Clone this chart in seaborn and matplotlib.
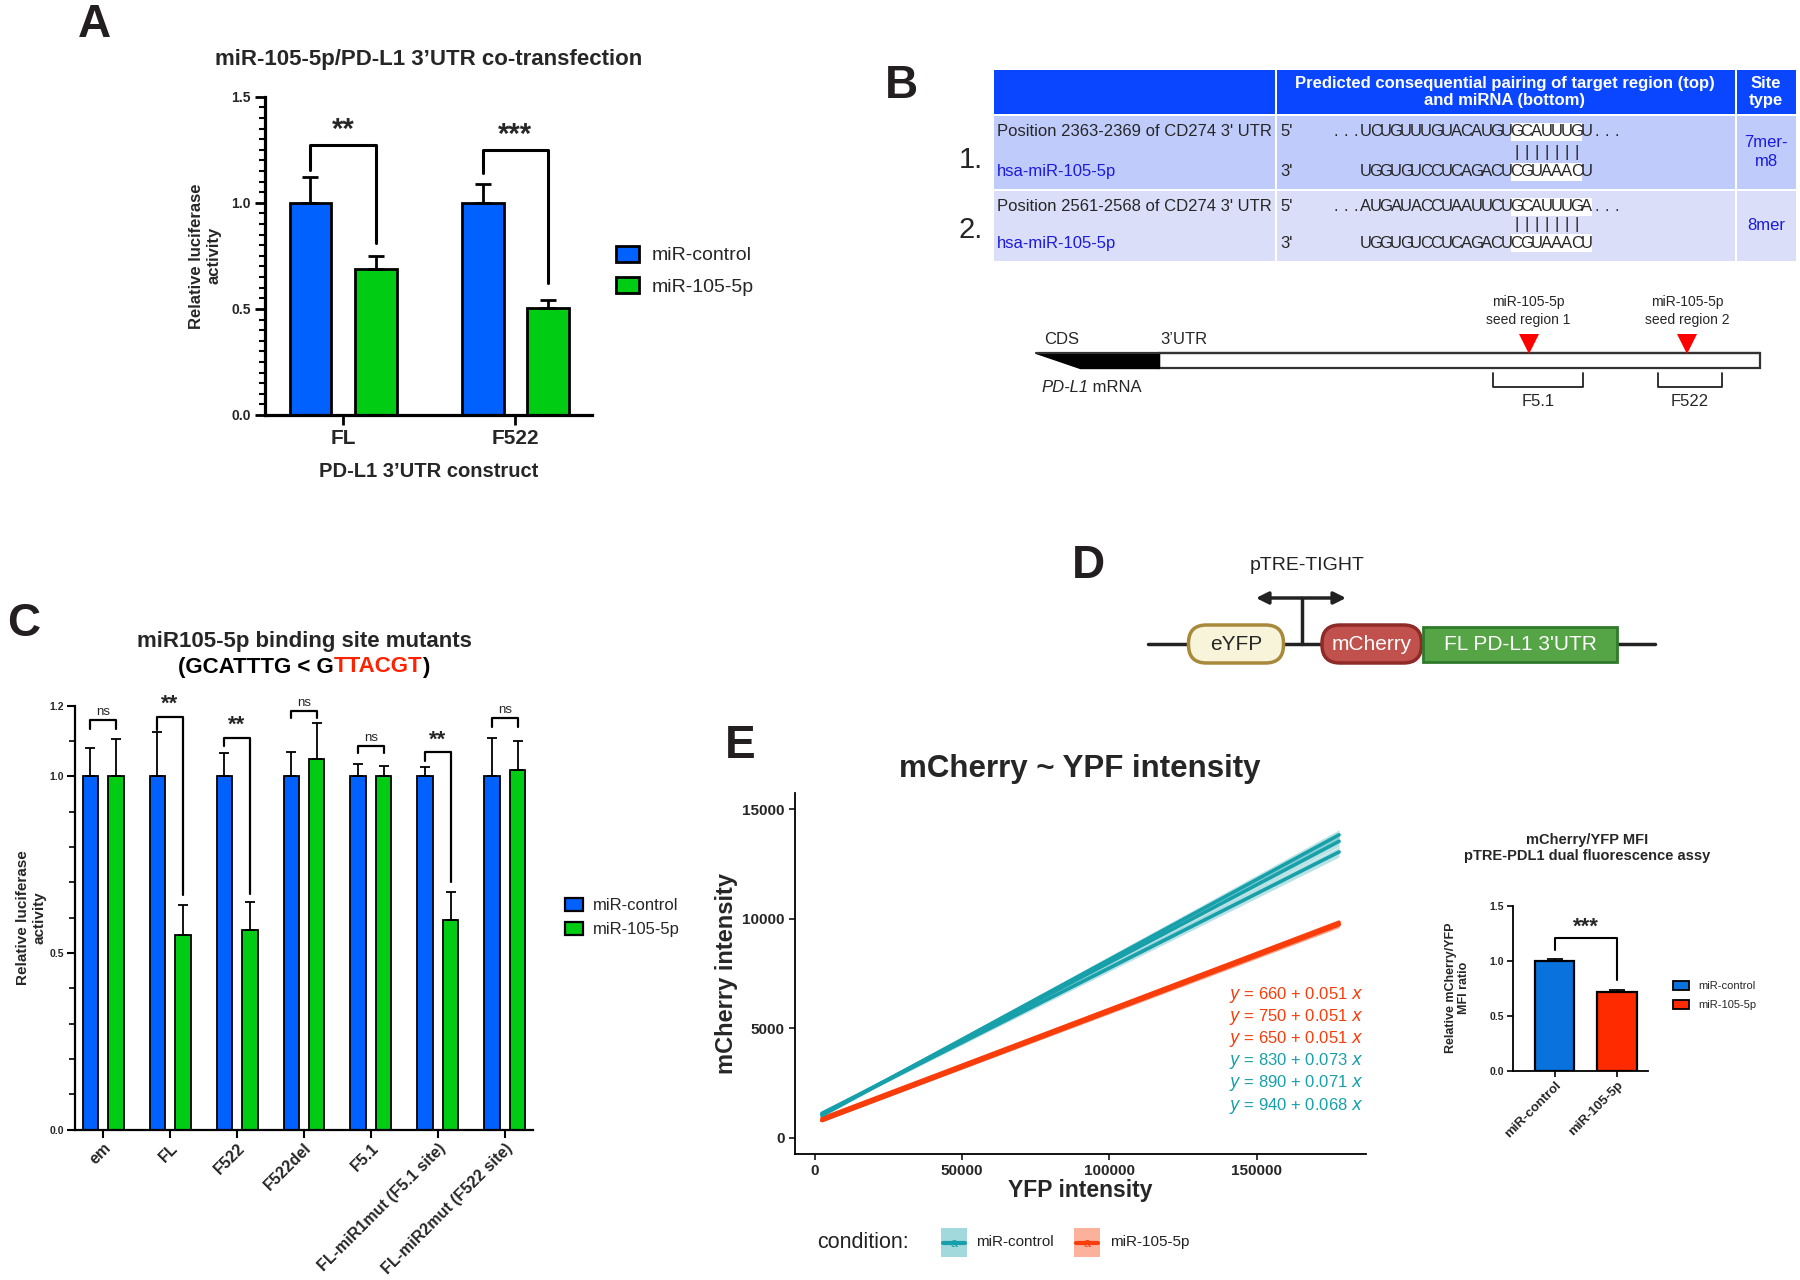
# Figura compuesta: ensayos de luciferasa (A, C), pareo miR-105-5p (B),
# construcción pTRE (D) y ensayo de fluorescencia dual (E).

import pandas as pd
import matplotlib
matplotlib.use("Agg")
import matplotlib.pyplot as plt
from matplotlib.ticker import MultipleLocator
from matplotlib.patches import Rectangle, FancyBboxPatch, Polygon, Patch
import seaborn as sns

# --- Datos panel A ---
a_constructs = ["FL", "F522"]
a_ctrl = [1.0, 1.0]
a_mir = [0.69, 0.505]
a_ctrl_err = [0.12, 0.088]
a_mir_err = [0.058, 0.038]
a_stars = ["**", "***"]
a_top = [1.272, 1.249]
a_leg_ctrl = [1.154, 1.139]
a_leg_mir = [0.81, 0.62]

# --- Datos panel C ---
c_constructs = ["em", "FL", "F522", "F522del", "F5.1",
                "FL-miR1mut (F5.1 site)", "FL-miR2mut (F522 site)"]
c_ctrl = [1.0, 1.0, 1.0, 1.0, 1.0, 1.0, 1.0]
c_mir = [1.0, 0.55, 0.565, 1.05, 1.0, 0.592, 1.018]
c_ctrl_err = [0.08, 0.126, 0.065, 0.067, 0.034, 0.026, 0.108]
c_mir_err = [0.105, 0.085, 0.08, 0.1, 0.028, 0.079, 0.081]
c_marks = ["ns", "**", "**", "ns", "ns", "**", "ns"]
c_top = [1.158, 1.167, 1.109, 1.185, 1.086, 1.067, 1.164]
c_leg_ctrl = [1.134, 1.13, 1.084, 1.164, 1.065, 1.044, 1.14]
c_leg_mir = [1.134, 0.663, 0.666, 1.164, 1.065, 0.70, 1.14]

# --- Datos panel E (rectas ajustadas) ---
e_conditions = ["miR-105-5p"] * 3 + ["miR-control"] * 3
e_intercepts = [660, 750, 650, 830, 890, 940]
e_slopes = [0.051, 0.051, 0.051, 0.073, 0.071, 0.068]
e_x_range = [2500, 178000]
e_band = [[60, 140], [60, 140], [60, 140], [60, 230], [60, 230], [60, 230]]

# --- Datos inserto E ---
f_groups = ["miR-control", "miR-105-5p"]
f_values = [1.0, 0.715]
f_err = [0.012, 0.022]

# --- Secuencias panel B ---
b_target = ["UCUGUUUGUACAUGUGCAUUUGU", "AUGAUACCUAAUUCUGCAUUUGA"]
b_mirna = "UGGUGUCCUCAGACUCGUAAACU"
b_positions = ["Position 2363-2369 of CD274 3' UTR", "Position 2561-2568 of CD274 3' UTR"]
b_seed_len = [7, 8]
b_site = ["7mer-\nm8", "8mer"]

AZUL = "#0061FE"
VERDE = "#00CC13"
AZUL_F = "#0A72DC"
ROJO_F = "#FF2A00"
TEAL = "#17A0AA"
NARANJA = "#F83C0A"
AZUL_TXT = "#1A1AE0"

W, H = 1800, 1280
sns.set_style("ticks")
plt.rcParams["font.family"] = ["Liberation Sans", "DejaVu Sans"]
NARROW = ["Liberation Sans Narrow", "Liberation Sans", "DejaVu Sans"]
ARIAL = ["Liberation Sans", "DejaVu Sans"]

fig = plt.figure(figsize=(18, 12.8), dpi=100)

# eje de fondo en pixeles (y hacia abajo) para diagramas y textos
bg = fig.add_axes([0, 0, 1, 1])
bg.set_xlim(0, W)
bg.set_ylim(H, 0)
bg.axis("off")


def ejes_px(x0, y0, x1, y1):
    ax = fig.add_axes([x0 / W, 1 - y1 / H, (x1 - x0) / W, (y1 - y0) / H])
    ax.patch.set_visible(False)
    return ax


def estilo_eje(ax, lw):
    for s in ["top", "right"]:
        ax.spines[s].set_visible(False)
    for s in ["left", "bottom"]:
        ax.spines[s].set_linewidth(lw)
        ax.spines[s].set_color("black")


def fuente_ticks(labels, size, family, weight="bold"):
    for lbl in labels:
        lbl.set_fontsize(size)
        lbl.set_fontfamily(family)
        lbl.set_fontweight(weight)


def barras_error(ax, errs_por_hue, lw, cap):
    conts = list(ax.containers)[:len(errs_por_hue)]
    centros = []
    for cont, errs in zip(conts, errs_por_hue):
        xs = []
        for barra, e in zip(cont, errs):
            xc = barra.get_x() + barra.get_width() / 2
            ax.errorbar(xc, barra.get_height(), yerr=[[0], [e]], fmt="none", ecolor="black",
                        elinewidth=lw, capsize=cap, capthick=lw, zorder=1)
            xs.append(xc)
        centros.append(xs)
    return centros


def corchete(ax, x1, x2, top, y1, y2, label, size, weight, lw, gap):
    ax.plot([x1, x1, x2, x2], [y1, top, top, y2], color="black", lw=lw, clip_on=False)
    ax.text((x1 + x2) / 2, top + gap, label, ha="center", va="bottom", fontsize=size,
            fontweight=weight, clip_on=False)


def leyenda(ax, colores, etiquetas, x, y, size, hl, hh, ls, htp, lw, family=NARROW):
    handles = [Patch(facecolor=c, edgecolor="black", linewidth=lw) for c in colores]
    ax.legend(handles, etiquetas, loc="upper left", bbox_to_anchor=(x / W, 1 - y / H),
              bbox_transform=fig.transFigure, frameon=False, borderpad=0, borderaxespad=0,
              handlelength=hl, handleheight=hh, labelspacing=ls, handletextpad=htp,
              prop={"family": family, "size": size})


# --- Letras de panel ---
for txt, x, y in [("A", 94, 25), ("B", 901, 86), ("C", 24, 624), ("D", 1088, 566), ("E", 740, 746)]:
    bg.text(x, y, txt, fontsize=33, fontweight="bold", ha="center", va="center", color="#231F20")

# ================= Panel A =================
ax_a = ejes_px(265, 96.7, 592, 415)
df_a = pd.DataFrame({"construct": a_constructs * 2, "valor": a_ctrl + a_mir,
                     "condicion": ["miR-control"] * 2 + ["miR-105-5p"] * 2})
sns.barplot(data=df_a, x="construct", y="valor", hue="condicion", palette=[AZUL, VERDE],
            saturation=1, width=0.76, gap=0.36, edgecolor="black", linewidth=2, errorbar=None,
            legend=False, ax=ax_a)
cent = barras_error(ax_a, [a_ctrl_err, a_mir_err], 2, 6)
for i in range(len(a_constructs)):
    corchete(ax_a, cent[0][i], cent[1][i], a_top[i], a_leg_ctrl[i], a_leg_mir[i],
             a_stars[i], 21, "bold", 2.2, 0.005)
estilo_eje(ax_a, 2.3)
ax_a.set_xlim(-0.454, 1.445)
ax_a.set_ylim(0, 1.5)
ax_a.set_yticks([0, 0.5, 1.0, 1.5], ["0.0", "0.5", "1.0", "1.5"])
ax_a.yaxis.set_minor_locator(MultipleLocator(0.05))
ax_a.tick_params(axis="both", which="major", length=7, width=2, color="black", pad=3)
ax_a.tick_params(axis="y", which="minor", length=4, width=1.5, color="black")
fuente_ticks(ax_a.get_yticklabels(), 10, NARROW)
fuente_ticks(ax_a.get_xticklabels(), 15, NARROW)
ax_a.set_xlabel("PD-L1 3’UTR construct", fontsize=14.5, fontweight="bold", family=NARROW, labelpad=10)
ax_a.set_ylabel("Relative luciferase\nactivity", fontsize=12, fontweight="bold", labelpad=7)
bg.text(429, 60, "miR-105-5p/PD-L1 3’UTR co-transfection", ha="center", va="center",
        fontsize=16, fontweight="bold", family=NARROW)
leyenda(ax_a, [AZUL, VERDE], ["miR-control", "miR-105-5p"], 616, 246, 14, 1.2, 0.85, 0.65, 0.65, 2)

# ================= Panel B: tabla =================
HDR = "#0A46FF"
FILA = ["#BFCCFB", "#DBDEF8"]
cols = [(994, 1275), (1277, 1735), (1737, 1796)]
for (x0, x1) in cols:
    bg.add_patch(Rectangle((x0, 70), x1 - x0, 44, fc=HDR, ec="none"))
filas_y = [(116, 189), (191, 261)]
for k, (y0, y1) in enumerate(filas_y):
    for (x0, x1) in cols:
        bg.add_patch(Rectangle((x0, y0), x1 - x0, y1 - y0, fc=FILA[k], ec="none"))
bg.text(1505, 92, "Predicted consequential pairing of target region (top)\nand miRNA (bottom)",
        ha="center", va="center", color="white", fontsize=12, fontweight="bold",
        family=NARROW, linespacing=1.2)
bg.text(1766, 92, "Site\ntype", ha="center", va="center", color="white", fontsize=12,
        fontweight="bold", family=NARROW, linespacing=1.2)

PASO = 10.03
X0_SEQ = 1361


def secuencia(y, texto, inicio, semilla=None, size=12):
    if semilla is not None:
        i0, n = semilla
        bg.add_patch(Rectangle((X0_SEQ + i0 * PASO, y - 9), n * PASO, 18, fc="white", ec="none"))
    for i, ch in enumerate(texto):
        bg.text(X0_SEQ + (inicio + i + 0.5) * PASO, y, ch, ha="center", va="center",
                fontsize=size, family=NARROW)


filas_txt = [(131.7, 153, 171.7, 160), (206.7, 225, 243.3, 230)]
for k, (yt, yp, yb, yn) in enumerate(filas_txt):
    bg.text(997, yt, b_positions[k], ha="left", va="center", fontsize=12, family=NARROW)
    bg.text(997, yb, "hsa-miR-105-5p", ha="left", va="center", fontsize=12, color=AZUL_TXT, family=NARROW)
    bg.text(1280, yt, "5'", ha="left", va="center", fontsize=12)
    bg.text(1280, yb, "3'", ha="left", va="center", fontsize=12)
    secuencia(yt, "...", -3)
    secuencia(yt, b_target[k], 0, semilla=(15, b_seed_len[k]))
    secuencia(yt, "...", 23)
    secuencia(yp, "|" * 7, 15)
    secuencia(yb, b_mirna, 0, semilla=(15, b_seed_len[k]))
    bg.text(971, yn, f"{k + 1}.", ha="center", va="center", fontsize=21, family=NARROW)
    bg.text(1766, (yt + yb) / 2, b_site[k], ha="center", va="center", fontsize=12,
            color=AZUL_TXT, family=NARROW, linespacing=1.3)

# ================= Panel B: esquema del ARNm =================
bg.add_patch(Rectangle((1158.8, 353), 1760 - 1158.8, 15, fc="white", ec="#333333", lw=1.6))
bg.add_patch(Polygon([(1035.5, 353), (1158.8, 353), (1158.8, 368), (1079.5, 368)],
                     closed=True, fc="black", ec="black", lw=1))
bg.plot([1035.5, 1760], [353, 353], color="#333333", lw=1.6)
bg.text(1044, 340, "CDS", ha="left", va="center", fontsize=12, family=NARROW)
bg.text(1160, 340, "3’UTR", ha="left", va="center", fontsize=12, family=NARROW)
t_pd = bg.text(1041, 388, "PD-L1", ha="left", va="center", fontsize=12, style="italic", family=NARROW)
bg.annotate(" mRNA", xy=(1, 0), xycoords=t_pd, ha="left", va="bottom", fontsize=12, family=NARROW)
for xt, n in [(1528.5, 1), (1687, 2)]:
    bg.plot([xt], [344], marker="v", color="#FF0000", markersize=14, markeredgewidth=0)
    bg.text(xt, 311, f"miR-105-5p\nseed region {n}", ha="center", va="center", fontsize=10,
            family=NARROW, linespacing=1.4)
for (x0, x1), lbl in [((1493, 1582.5), "F5.1"), ((1657.6, 1722), "F522")]:
    bg.plot([x0, x0, x1, x1], [373, 387, 387, 373], color="#222222", lw=1.3)
    bg.text((x0 + x1) / 2, 401, lbl, ha="center", va="center", fontsize=12, family=NARROW)

# ================= Panel C =================
ax_c = ejes_px(75, 705.5, 533, 1129.5)
n_c = len(c_constructs)
df_c = pd.DataFrame({"construct": c_constructs * 2, "valor": c_ctrl + c_mir,
                     "condicion": ["miR-control"] * n_c + ["miR-105-5p"] * n_c})
sns.barplot(data=df_c, x="construct", y="valor", hue="condicion", palette=[AZUL, VERDE],
            saturation=1, width=0.76, gap=0.39, edgecolor="black", linewidth=1.3, errorbar=None,
            legend=False, ax=ax_c)
cent = barras_error(ax_c, [c_ctrl_err, c_mir_err], 1.3, 3.5)
for i in range(n_c):
    es_ns = c_marks[i] == "ns"
    corchete(ax_c, cent[0][i], cent[1][i], c_top[i], c_leg_ctrl[i], c_leg_mir[i], c_marks[i],
             9.5 if es_ns else 16, "normal" if es_ns else "bold", 1.6, 0.006)
estilo_eje(ax_c, 1.6)
ax_c.set_xlim(-0.42, 6.42)
ax_c.set_ylim(0, 1.2)
ax_c.set_yticks([0, 0.5, 1.0, 1.2], ["0.0", "0.5", "1.0", "1.2"])
ax_c.yaxis.set_minor_locator(MultipleLocator(0.1))
ax_c.tick_params(axis="both", which="major", length=6, width=1.5, color="black", pad=2)
ax_c.tick_params(axis="y", which="minor", length=4, width=1.2, color="black")
fuente_ticks(ax_c.get_yticklabels(), 7.5, NARROW)
fuente_ticks(ax_c.get_xticklabels(), 11.5, ARIAL)
for lbl in ax_c.get_xticklabels():
    lbl.set_rotation(45)
    lbl.set_ha("right")
    lbl.set_rotation_mode("anchor")
ax_c.set_xlabel("")
ax_c.set_ylabel("Relative luciferase\nactivity", fontsize=11, fontweight="bold", labelpad=2)
bg.text(304, 642, "miR105-5p binding site mutants", ha="center", va="center",
        fontsize=16, fontweight="bold")
# segunda línea del título con la mutación en rojo
partes = [("(GCATTTG < G", "black"), ("TTACGT", "#FF2200"), (")", "black")]
tmp = bg.text(304, 667, "".join(p for p, _ in partes), ha="center", va="center",
              fontsize=16, fontweight="bold")
x_ini = tmp.get_window_extent(renderer=fig.canvas.get_renderer()).x0
tmp.remove()
prev = bg.text(x_ini, 667, partes[0][0], ha="left", va="center", fontsize=16,
               fontweight="bold", color=partes[0][1])
for txt, col in partes[1:]:
    prev = bg.annotate(txt, xy=(1, 0), xycoords=prev, ha="left", va="bottom", fontsize=16,
                       fontweight="bold", color=col)
leyenda(ax_c, [AZUL, VERDE], ["miR-control", "miR-105-5p"], 565, 898, 12, 1.1, 0.85, 0.5, 0.55, 1.6)

# ================= Panel D: construcción =================
bg.plot([1148, 1655], [644, 644], color="#222222", lw=2.5, zorder=1)
bg.plot([1302, 1302], [598, 644], color="#222222", lw=2.5, zorder=1)
bg.annotate("", xy=(1256, 598), xytext=(1346, 598),
            arrowprops=dict(arrowstyle="<|-|>", lw=2.5, color="#222222", mutation_scale=18,
                            shrinkA=0, shrinkB=0))
bg.text(1307, 565, "pTRE-TIGHT", ha="center", va="center", fontsize=14, family=NARROW, color="#222222")
bg.add_patch(FancyBboxPatch((1188.5, 625), 95, 38, boxstyle="round,pad=0,rounding_size=18",
                            fc="#F8F4D9", ec="#A8883A", lw=2.5, zorder=2))
bg.text(1236, 644, "eYFP", ha="center", va="center", fontsize=15, family=NARROW, zorder=3)
bg.add_patch(FancyBboxPatch((1322, 625), 99.5, 38, boxstyle="round,pad=0,rounding_size=18",
                            fc="#C0514C", ec="#8E2A27", lw=2.5, zorder=2))
bg.text(1371.5, 644, "mCherry", ha="center", va="center", fontsize=15, family=NARROW,
        color="white", zorder=3)
bg.add_patch(Rectangle((1423, 627), 194, 34.5, fc="#55A445", ec="#2F7A2B", lw=2, zorder=2))
bg.text(1520, 644, "FL PD-L1 3'UTR", ha="center", va="center", fontsize=15, family=NARROW,
        color="white", zorder=3)

# ================= Panel E: regresiones =================
ax_e = ejes_px(794.5, 793.4, 1365.6, 1153.8)
filas = []
for k in range(len(e_intercepts)):
    for xv in e_x_range:
        filas.append({"x": xv, "y": e_intercepts[k] + e_slopes[k] * xv,
                      "condicion": e_conditions[k], "linea": k})
df_e = pd.DataFrame(filas)
pal_e = {"miR-control": TEAL, "miR-105-5p": NARANJA}
for k in range(len(e_intercepts)):
    sub = df_e[df_e["linea"] == k]
    ax_e.fill_between(sub["x"], sub["y"] - e_band[k], sub["y"] + e_band[k],
                      color=pal_e[e_conditions[k]], alpha=0.3, lw=0)
sns.lineplot(data=df_e, x="x", y="y", hue="condicion", units="linea", estimator=None,
             palette=pal_e, linewidth=2.6, legend=False, ax=ax_e)
estilo_eje(ax_e, 1.3)
ax_e.set_xlim(-6800, 187000)
ax_e.set_ylim(-740, 15717)
ax_e.set_xticks([0, 50000, 100000, 150000])
ax_e.set_yticks([0, 5000, 10000, 15000])
ax_e.tick_params(axis="both", length=4, width=1.1, color="black", pad=3)
fuente_ticks(ax_e.get_xticklabels() + ax_e.get_yticklabels(), 11, ARIAL)
ax_e.set_xlabel("YFP intensity", fontsize=16.5, fontweight="bold", family=NARROW, labelpad=1)
ax_e.set_ylabel("mCherry intensity", fontsize=17, fontweight="bold", family=NARROW, labelpad=3)
bg.text(1080, 769, "mCherry ~ YPF intensity", ha="center", va="center", fontsize=22.5,
        fontweight="bold", family=NARROW)
for k in range(len(e_intercepts)):
    ax_e.text(1363, 995 + 22.1 * k, f"$y$ = {e_intercepts[k]} + {e_slopes[k]:.3f} $x$",
              transform=bg.transData, ha="right", va="center", fontsize=12, family=NARROW,
              color=pal_e[e_conditions[k]])

# leyenda estilo ggplot (claves dibujadas a mano)
bg.text(817, 1242, "condition:", ha="left", va="center", fontsize=15.5, family=NARROW, color="#222222")
for cond, bx, tx in [("miR-control", 941, 976.5), ("miR-105-5p", 1074, 1110)]:
    col = pal_e[cond]
    bg.add_patch(Rectangle((bx, 1228), 26, 29, fc=col, alpha=0.4, ec="none"))
    bg.plot([bx + 2, bx + 24], [1242.5, 1242.5], color=col, lw=3)
    bg.text(bx + 13, 1244, "a", ha="center", va="center", fontsize=9, color=col)
    bg.text(tx, 1242, cond, ha="left", va="center", fontsize=11, family=NARROW, color="#222222")

# ================= Panel E: inserto MFI =================
ax_f = ejes_px(1512.7, 905.7, 1648, 1070.7)
df_f = pd.DataFrame({"grupo": f_groups, "valor": f_values})
sns.barplot(data=df_f, x="grupo", y="valor", hue="grupo", palette=[AZUL_F, ROJO_F], saturation=1,
            width=0.63, edgecolor="black", linewidth=1.6, errorbar=None, legend=False, ax=ax_f)
for barra, e in zip(ax_f.patches, f_err):
    xc = barra.get_x() + barra.get_width() / 2
    ax_f.errorbar(xc, barra.get_height(), yerr=[[0], [e]], fmt="none", ecolor="black",
                  elinewidth=1.3, capsize=6, capthick=1.3)
corchete(ax_f, 0, 1, 1.203, 1.097, 0.824, "***", 16, "bold", 1.5, 0.005)
estilo_eje(ax_f, 1.3)
ax_f.set_xlim(-0.68, 1.5)
ax_f.set_ylim(0, 1.5)
ax_f.set_yticks([0, 0.5, 1.0, 1.5], ["0.0", "0.5", "1.0", "1.5"])
ax_f.tick_params(axis="both", length=4, width=1.2, color="black", pad=2)
fuente_ticks(ax_f.get_yticklabels(), 7.5, ARIAL)
fuente_ticks(ax_f.get_xticklabels(), 9.5, ARIAL)
for lbl in ax_f.get_xticklabels():
    lbl.set_rotation(45)
    lbl.set_ha("right")
    lbl.set_rotation_mode("anchor")
ax_f.set_xlabel("")
ax_f.set_ylabel("Relative mCherry/YFP\nMFI ratio", fontsize=9, fontweight="bold", labelpad=14)
bg.text(1587, 848, "mCherry/YFP MFI\npTRE-PDL1 dual fluorescence assy", ha="center", va="center",
        fontsize=10.5, fontweight="bold", linespacing=1.15)
leyenda(ax_f, [AZUL_F, ROJO_F], ["miR-control", "miR-105-5p"], 1673, 981, 8, 1.45, 0.8, 0.8, 0.8, 1.3,
        family=ARIAL)

fig.savefig("out.png", dpi=100)
